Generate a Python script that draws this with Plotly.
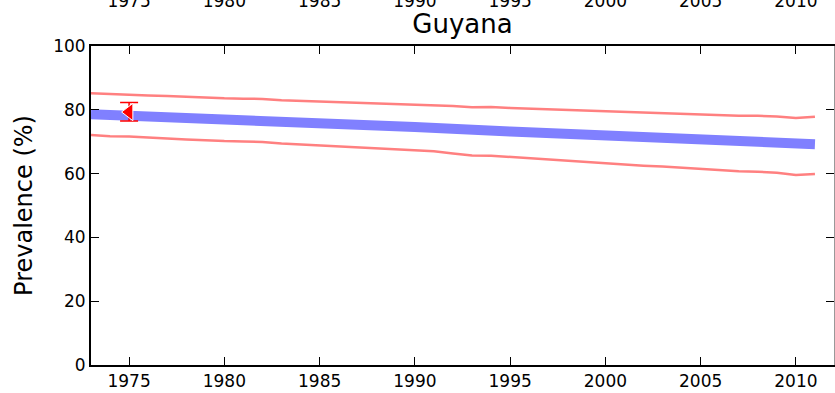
import plotly.graph_objects as go

years = list(range(1973, 2012))
upper = [85.2, 84.9, 84.8, 84.5, 84.3, 84.0, 83.8, 83.6, 83.5, 83.4,
         83.0, 82.8, 82.6, 82.4, 82.2, 82.0, 81.9, 81.7, 81.6, 81.2,
         80.8, 80.9, 80.6, 80.4, 80.2, 80.0, 79.6, 79.4, 79.4, 79.1,
         78.9, 78.7, 78.4, 78.3, 78.1, 78.1, 77.9, 77.4, 77.8]
lower = [72.1, 71.7, 71.6, 71.2, 71.0, 70.7, 70.4, 70.2, 70.1, 69.9,
         69.4, 69.1, 68.8, 68.5, 68.2, 67.8, 67.6, 67.2, 67.0, 66.3,
         65.7, 65.6, 65.2, 64.8, 64.5, 64.1, 63.5, 63.1, 62.9, 62.5,
         62.2, 61.8, 61.4, 61.1, 60.7, 60.6, 60.3, 59.6, 59.9]
mean_years = [1973, 1975, 1980, 1985, 1990, 1995, 2000, 2005, 2010, 2011]
mean_vals = [78.6, 78.2, 77.1, 75.9, 74.6, 73.2, 71.8, 70.6, 69.4, 69.2]

obs_year = [1975]
obs_val = [79.3]
obs_err_plus = [3.0]
obs_err_minus = [2.8]

xticks = [1975, 1980, 1985, 1990, 1995, 2000, 2005, 2010]
yticks = [0, 20, 40, 60, 80, 100]

FONT = "DejaVu Sans"

fig = go.Figure()
fig.add_trace(go.Scatter(x=years, y=upper, mode="lines",
                         line=dict(color="#ff8080", width=2.5), showlegend=False))
fig.add_trace(go.Scatter(x=years, y=lower, mode="lines",
                         line=dict(color="#ff8080", width=2.5), showlegend=False))
fig.add_trace(go.Scatter(x=mean_years, y=mean_vals, mode="lines",
                         line=dict(color="#8080ff", width=10), showlegend=False))
fig.add_trace(go.Scatter(x=obs_year, y=obs_val, mode="markers",
                         marker=dict(symbol="triangle-left", color="red", size=15,
                                     line=dict(color="white", width=1)),
                         error_y=dict(type="data", symmetric=False, array=obs_err_plus,
                                      arrayminus=obs_err_minus, color="red",
                                      thickness=1.5, width=9),
                         showlegend=False))
fig.add_trace(go.Scatter(x=[1973], y=[0], xaxis="x2", yaxis="y2", mode="markers",
                         marker=dict(opacity=0), showlegend=False, hoverinfo="skip"))

fig.update_layout(
    width=835, height=393,
    margin=dict(l=91, r=1, t=46, b=28),
    plot_bgcolor="white", paper_bgcolor="white",
    font=dict(family=FONT, color="black", size=17),
    title=dict(text="Guyana", x=0.5, xref="paper",
               y=1 - 24 / 393, yref="container", yanchor="middle", xanchor="center",
               font=dict(size=26, family=FONT)),
    xaxis=dict(range=[1973, 2012], tickvals=xticks, ticks="inside", ticklen=8,
               tickwidth=1, tickcolor="black", showline=True, linecolor="black",
               linewidth=2, showgrid=False, zeroline=False, automargin=False,
               tickfont=dict(size=17)),
    xaxis2=dict(range=[1973, 2012], tickvals=xticks, overlaying="x", side="top",
                ticks="inside", ticklen=8, tickwidth=1, tickcolor="black",
                showline=True, linecolor="black", linewidth=2, showgrid=False,
                zeroline=False, ticklabelstandoff=30, automargin=False,
                tickfont=dict(size=17)),
    yaxis=dict(range=[0, 100], tickvals=yticks, ticks="inside", ticklen=8,
               tickwidth=1, tickcolor="black", showline=True, linecolor="black",
               linewidth=2, showgrid=False, zeroline=False, automargin=False,
               title=dict(text="Prevalence (%)", font=dict(size=24), standoff=14),
               tickfont=dict(size=17)),
    yaxis2=dict(range=[0, 100], tickvals=yticks, overlaying="y", side="right",
                ticks="inside", ticklen=8, tickwidth=1, tickcolor="black",
                showline=True, linecolor="#999999", linewidth=1, showgrid=False,
                zeroline=False, showticklabels=False, automargin=False),
)

fig.write_html("out.html", config={"displayModeBar": False},
               post_script="document.body.style.margin='0';")
